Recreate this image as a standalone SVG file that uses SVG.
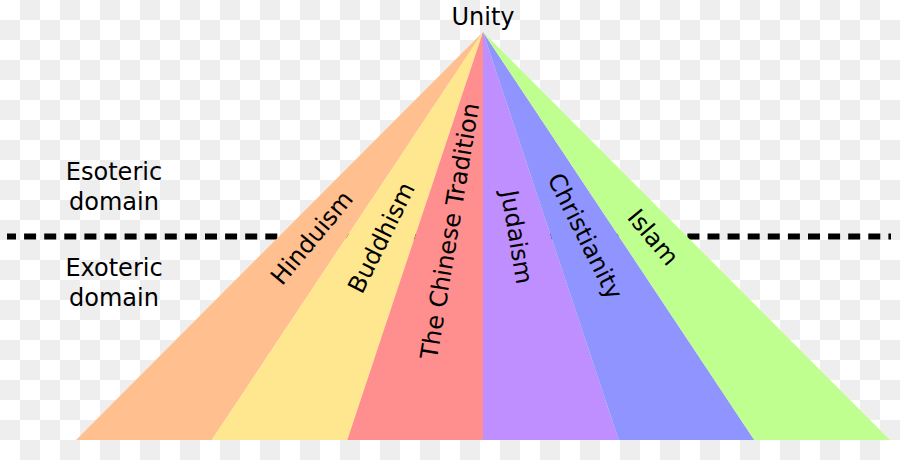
<svg xmlns="http://www.w3.org/2000/svg" width="900" height="460" viewBox="0 0 900 460">
  <defs>
    <pattern id="checker" x="0" y="0" width="40" height="40" patternUnits="userSpaceOnUse">
      <rect x="0" y="0" width="40" height="40" fill="#ffffff"/>
      <rect x="20" y="0" width="20" height="20" fill="#eeeeee"/>
      <rect x="0" y="20" width="20" height="20" fill="#eeeeee"/>
    </pattern>
  </defs>
  <style>
    text { font-family: "DejaVu Sans", Verdana, sans-serif; font-size: 24px; fill: #000000; }
    .mid { text-anchor: middle; }
    .lbl { text-anchor: middle; }
    .divider { stroke: #000000; stroke-width: 6; stroke-dasharray: 12 8.1; stroke-dashoffset: 3; fill: none; }
  </style>
  <rect x="0" y="0" width="900" height="460" fill="url(#checker)"/>

  <g id="domains">
    <text class="mid" x="114" y="180">Esoteric</text>
    <text class="mid" x="114" y="210">domain</text>
    <text class="mid" x="114" y="276">Exoteric</text>
    <text class="mid" x="114" y="306">domain</text>
  </g>

  <g id="connectors">
    <line class="divider" x1="7" y1="236.5" x2="891" y2="236.5"/>
  </g>

  <g id="hinduism">
    <polygon points="483,32 76,440 211.7,440" fill="#ffbf8f"/>
    <text class="lbl" transform="translate(311.5,237.5) rotate(-50.3)" dy="0.36em">Hinduism</text>
  </g>
  <g id="buddhism">
    <polygon points="483,32 211.7,440 347.3,440" fill="#ffe78f"/>
    <text class="lbl" transform="translate(381,237.5) rotate(-63.5)" dy="0.36em">Buddhism</text>
  </g>
  <g id="chinese-tradition">
    <polygon points="483,32 347.3,440 483,440" fill="#ff8f8f"/>
    <text class="lbl" transform="translate(449.5,231) rotate(-80.6)" dy="0.36em">The Chinese Tradition</text>
  </g>
  <g id="judaism">
    <polygon points="483,32 483,440 618.7,440" fill="#bf8fff"/>
    <text class="lbl" transform="translate(517.3,237) rotate(80.5)" dy="0.36em">Judaism</text>
  </g>
  <g id="christianity">
    <polygon points="483,32 618.7,440 754.3,440" fill="#8f94ff"/>
    <text class="lbl" transform="translate(585.5,236) rotate(63.4)" dy="0.36em">Christianity</text>
  </g>
  <g id="islam">
    <polygon points="483,32 754.3,440 890,440" fill="#bfff8f"/>
    <text class="lbl" transform="translate(653.5,237) rotate(50.2)" dy="0.36em">Islam</text>
  </g>

  <g id="unity">
    <text class="mid" x="483" y="25">Unity</text>
  </g>
</svg>
